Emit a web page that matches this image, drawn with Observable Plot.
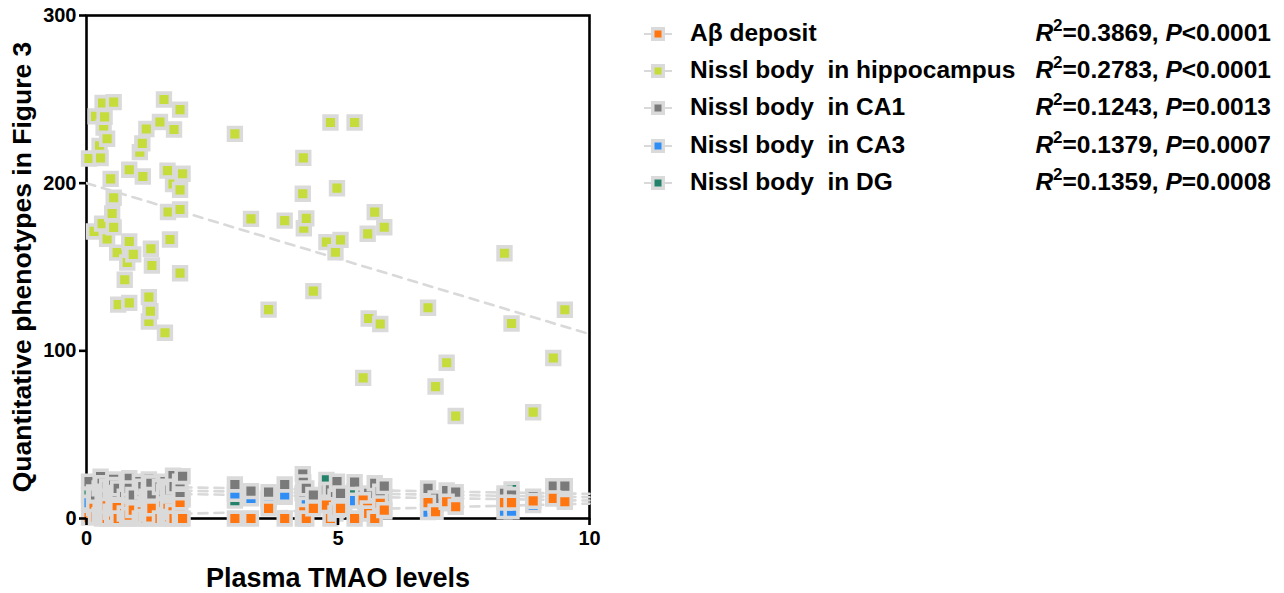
<!DOCTYPE html>
<html>
<head>
<meta charset="utf-8">
<script src="https://cdn.jsdelivr.net/npm/d3@7"></script>
<script src="https://cdn.jsdelivr.net/npm/@observablehq/plot@0.6"></script>
<style>
  body { margin: 0; background: #fff; font-family: "Liberation Sans", Arial, sans-serif; }
  #wrap { position: relative; width: 1284px; height: 593px; overflow: hidden; }
  #chart { position: absolute; left: 0; top: 0; }
  .row { position: absolute; left: 0; height: 30px; width: 1284px; font-weight: bold; font-size: 24.5px; color: #000; }
  .row .mk { position: absolute; left: 644px; top: 7px; }
  .row .nm { position: absolute; left: 690px; top: 0px; white-space: pre; }
  .row .st { position: absolute; right: 13px; top: 0px; white-space: pre; }
  .row .st sup { font-size: 17px; vertical-align: 10px; line-height: 0; }
</style>
</head>
<body>
<div id="wrap">
  <div id="chart"></div>
  <div id="legend"></div>
</div>
<script>
// ---- data ----
// Plasma TMAO levels (shared by all series; one value per animal)
const tmao = [0.05,0.15,0.18,0.26,0.28,0.31,0.32,0.34,0.36,0.41,0.41,0.48,0.51,0.54,0.54,0.54,0.61,0.63,0.76,0.81,
  0.85,0.85,0.85,0.93,1.06,1.11,1.12,1.19,1.24,1.24,1.27,1.28,1.30,1.46,1.54,1.56,1.61,1.62,1.66,1.72,
  1.74,1.86,1.86,1.86,1.86,1.91,2.95,3.27,3.62,3.94,4.30,4.31,4.32,4.37,4.51,4.77,4.85,4.95,4.98,5.05,
  5.33,5.50,5.59,5.61,5.73,5.84,5.92,6.79,6.94,7.16,7.34,8.31,8.45,8.88,9.28,9.51];
const hippocampus = [214.7,171.2,239.8,222.2,215.0,175.9,247.8,233.2,239.5,226.5,166.8,202.6,181.9,248.3,191.3,173.6,158.6,127.6,142.4,152.7,
  165.2,208.0,128.6,157.5,218.5,223.7,204.0,232.3,132.0,117.5,123.6,160.9,150.9,236.5,249.9,110.8,207.5,182.8,166.4,199.5,
  232.0,146.3,196.0,243.9,184.3,205.6,229.4,178.7,124.6,177.7,193.7,215.1,173.1,179.0,135.6,164.8,236.2,158.8,197.0,166.2,
  236.2,83.9,169.8,119.3,182.7,116.0,173.7,125.7,78.7,92.9,61.1,158.2,116.3,63.4,95.7,124.5];
const abeta = [0.5,6,1,2,5,0,3,7,1,0,7.5,4,0,8,2,6,6.5,0,3,0,
  6,0,2,5,0,4,1,0,7,3,0,1,6,0,7.5,2,0,6,1,4,
  0,5,8,0,2,0,0,0,6,0,0,2,4,0,6,8,0,3,5,6,
  0,11,6,3,0,9,5,9.5,4,10,7,9.5,9.5,10.5,12,10];
const ca1 = [22,15.5,14,18,25,21,12,16,15.3,19,13,17,14,23.3,20,12,15.3,18,13,21,
  24,15.3,18,14,22,16,19,13,23.3,15,17.7,21,14,18.7,16,22,19,13,17,25.6,
  19,15,19,22,13,25.2,20.3,16.3,15.7,20.3,26.5,21.5,15.7,18,14,17,17.1,13,22,15,
  21.7,14,13,15,21,16,19.3,18,12,16.7,15.7,15,14,13,19.3,19.3];
const ca3 = [9.4,12,14,11,13,10,15,12,9,13,11,14,10,12,15,11,13,9,12,14,
  10,13,11,11.7,15,12,10,14,11,13,12,9,14,11,13,10,12,15,11,13,
  10,12,14,11,13,11.3,14.7,12,11,14.1,15.3,11.2,13,10,12,11,13,10,12,11,
  10.7,12,9,11,10,10,4.2,3.8,8,9,10,4.3,4.3,8,12,11];
const dg = [14,16,12,15,13,17,14,11,16,13,15,12,16,14,11,15,13,17,12,14,
  16,11,15,13,14,17,12,15,13,16,11,14,12,15,13,16,14,11,15,13,
  16,12,14,13,15,12,10.7,14,12,13,15,12,14,11,13,23,12,14,13,15,
  16.1,12,13,11,14,12,13,11,10,12,11,13,17.3,10,14,13];

const seriesNames = ["Aβ deposit", "Nissl body  in hippocampus", "Nissl body  in CA1", "Nissl body  in CA3", "Nissl body  in DG"];
const seriesR2 = ["0.3869", "0.2783", "0.1243", "0.1379", "0.1359"];
const seriesP = ["<0.0001", "<0.0001", "=0.0013", "=0.0007", "=0.0008"];
// fitted regression lines: value at TMAO = 0 and at TMAO = 10
const fitX = [0, 10];
const fitStart = [1.4, 200, 19.5, 17.5, 15.5];
const fitEnd = [8.9, 110, 14.7, 12.7, 10.7];
const xTicks = [0, 5, 10];
const yTicks = [0, 100, 200, 300];

// ---- styles ----
const colors = ["#ff7510", "#c6dc3a", "#7a7a7a", "#2e8ef5", "#23836a"];
const seriesValues = [abeta, hippocampus, ca1, ca3, dg];

const points = seriesValues.map((vals, s) => tmao.map((x, i) => ({x, y: vals[i], s})));
const fits = fitStart.map((y0, s) => [{x: fitX[0], y: y0}, {x: fitX[1], y: fitEnd[s]}]);

const drawOrder = [4, 3, 2, 1, 0];
const marks = [
  Plot.frame({stroke: "black", strokeWidth: 2.6}),
  ...fits.map((f) => Plot.line(f, {x: "x", y: "y", stroke: "#d9d9d9", strokeWidth: 2.6, strokeDasharray: "9,7"})),
  ...drawOrder.map((s) => Plot.dot(points[s], {x: "x", y: "y", symbol: "square", r: 7.2, fill: colors[s], stroke: "#dadada", strokeWidth: 3.6})),
  Plot.axisX({ticks: xTicks, tickSize: 7, tickPadding: 5, strokeWidth: 2.6, label: null, fontSize: 20, fontWeight: "bold"}),
  Plot.axisY({ticks: yTicks, tickSize: 7, tickPadding: 3, strokeWidth: 2.6, label: null, fontSize: 20, fontWeight: "bold"}),
  Plot.text(["Plasma TMAO levels"], {text: (d) => d, frameAnchor: "bottom", textAnchor: "middle", dy: 60, fontSize: 27, fontWeight: "bold", lineAnchor: "middle"}),
  Plot.text(["Quantitative phenotypes in Figure 3"], {text: (d) => d, frameAnchor: "left", textAnchor: "middle", dx: -64, rotate: -90, fontSize: 26.5, fontWeight: "bold", lineAnchor: "middle"})
];

const chart = Plot.plot({
  width: 620,
  height: 593,
  marginLeft: 86,
  marginRight: 31,
  marginTop: 15,
  marginBottom: 75,
  x: {domain: [0, 10]},
  y: {domain: [0, 300]},
  style: {fontFamily: "'Liberation Sans', Arial, sans-serif", fontWeight: "bold", fontSize: "20px", color: "black", background: "white", overflow: "visible"},
  marks
});
document.getElementById("chart").appendChild(chart);

// ---- legend ----
const legend = document.getElementById("legend");
const rowTops = [19, 56, 93, 131, 168];
seriesNames.forEach((name, s) => {
  const row = document.createElement("div");
  row.className = "row";
  row.style.top = rowTops[s] + "px";
  row.innerHTML =
    `<svg class="mk" width="28" height="16"><line x1="0" x2="28" y1="8" y2="8" stroke="#d9d9d9" stroke-width="2"/>` +
    `<rect x="7" y="1" width="14" height="14" fill="#dadada"/><rect x="10.5" y="4.5" width="7" height="7" fill="${colors[s]}"/></svg>` +
    `<span class="nm"></span><span class="st"><i>R</i><sup>2</sup>=${seriesR2[s]}, <i>P</i>${seriesP[s].replace("<", "&lt;")}</span>`;
  row.querySelector(".nm").textContent = name;
  legend.appendChild(row);
});
</script>
</body>
</html>
